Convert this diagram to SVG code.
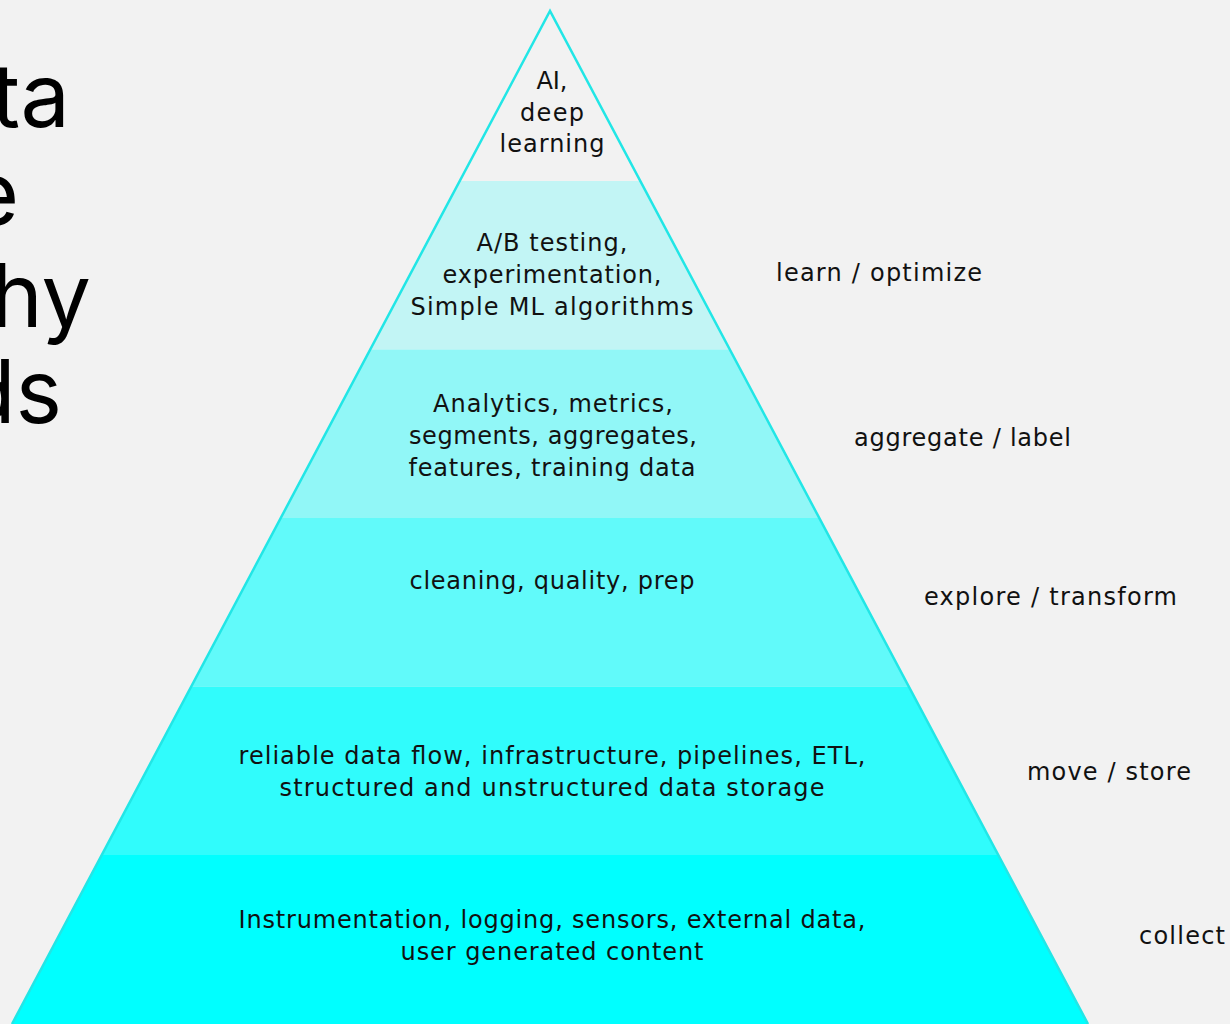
<svg xmlns="http://www.w3.org/2000/svg" width="1230" height="1024" viewBox="0 0 1230 1024">
<style>
.t{font-family:"DejaVu Sans","Liberation Sans",sans-serif;font-size:24px;fill:#111;text-anchor:middle}
.r{font-family:"DejaVu Sans","Liberation Sans",sans-serif;font-size:24px;fill:#111}
.h{font-family:Inter,"Noto Sans","Liberation Sans",sans-serif;font-size:88px;fill:#000;text-anchor:end}
</style>
<defs>
<clipPath id="tri"><polygon points="550,11 1088,1024 12,1024"/></clipPath>
</defs>
<rect width="1230" height="1024" fill="#f2f2f2"/>
<g id="title">
<text class="h" x="70" y="127">Data</text>
<text class="h" x="19" y="225">Science</text>
<text class="h" x="91" y="327">Hierarchy</text>
<text class="h" x="62" y="423">Needs</text>
</g>
<g clip-path="url(#tri)">
<g id="level1"><rect x="0" y="11" width="1230" height="170" fill="#f2f2f2"/></g>
<g id="level2"><rect x="0" y="181" width="1230" height="168.5" fill="#c2f5f5"/></g>
<g id="level3"><rect x="0" y="349.5" width="1230" height="168.5" fill="#91f7f7"/></g>
<g id="level4"><rect x="0" y="518" width="1230" height="168.5" fill="#61fafa"/></g>
<g id="level5"><rect x="0" y="686.5" width="1230" height="168.5" fill="#30fcfc"/></g>
<g id="level6"><rect x="0" y="855" width="1230" height="169" fill="#00ffff"/></g>
</g>
<g id="outline"><polyline points="12,1024 550,11 1088,1024" fill="none" stroke="#22e6e6" stroke-width="2.5"/></g>
<g id="labels">
<text class="t" x="552" y="89" textLength="31" lengthAdjust="spacing">AI,</text>
<text class="t" x="552" y="121" textLength="64" lengthAdjust="spacing">deep</text>
<text class="t" x="552" y="152" textLength="105" lengthAdjust="spacing">learning</text>
<text class="t" x="552" y="251" textLength="151" lengthAdjust="spacing">A/B testing,</text>
<text class="t" x="552" y="283" textLength="219" lengthAdjust="spacing">experimentation,</text>
<text class="t" x="552" y="315" textLength="283" lengthAdjust="spacing">Simple ML algorithms</text>
<text class="t" x="553" y="412" textLength="240" lengthAdjust="spacing">Analytics, metrics,</text>
<text class="t" x="553" y="444" textLength="288" lengthAdjust="spacing">segments, aggregates,</text>
<text class="t" x="552" y="476" textLength="287" lengthAdjust="spacing">features, training data</text>
<text class="t" x="552" y="589" textLength="285" lengthAdjust="spacing">cleaning, quality, prep</text>
<text class="t" x="552" y="764" textLength="627" lengthAdjust="spacing">reliable data flow, infrastructure, pipelines, ETL,</text>
<text class="t" x="552" y="796" textLength="545" lengthAdjust="spacing">structured and unstructured data storage</text>
<text class="t" x="552" y="928" textLength="627" lengthAdjust="spacing">Instrumentation, logging, sensors, external data,</text>
<text class="t" x="552" y="960" textLength="303" lengthAdjust="spacing">user generated content</text>
</g>
<g id="side">
<text class="r" x="776" y="281" textLength="206" lengthAdjust="spacing">learn / optimize</text>
<text class="r" x="854" y="446" textLength="217" lengthAdjust="spacing">aggregate / label</text>
<text class="r" x="924" y="605" textLength="253" lengthAdjust="spacing">explore / transform</text>
<text class="r" x="1027" y="780" textLength="164" lengthAdjust="spacing">move / store</text>
<text class="r" x="1139" y="944" textLength="86" lengthAdjust="spacing">collect</text>
</g>
</svg>
